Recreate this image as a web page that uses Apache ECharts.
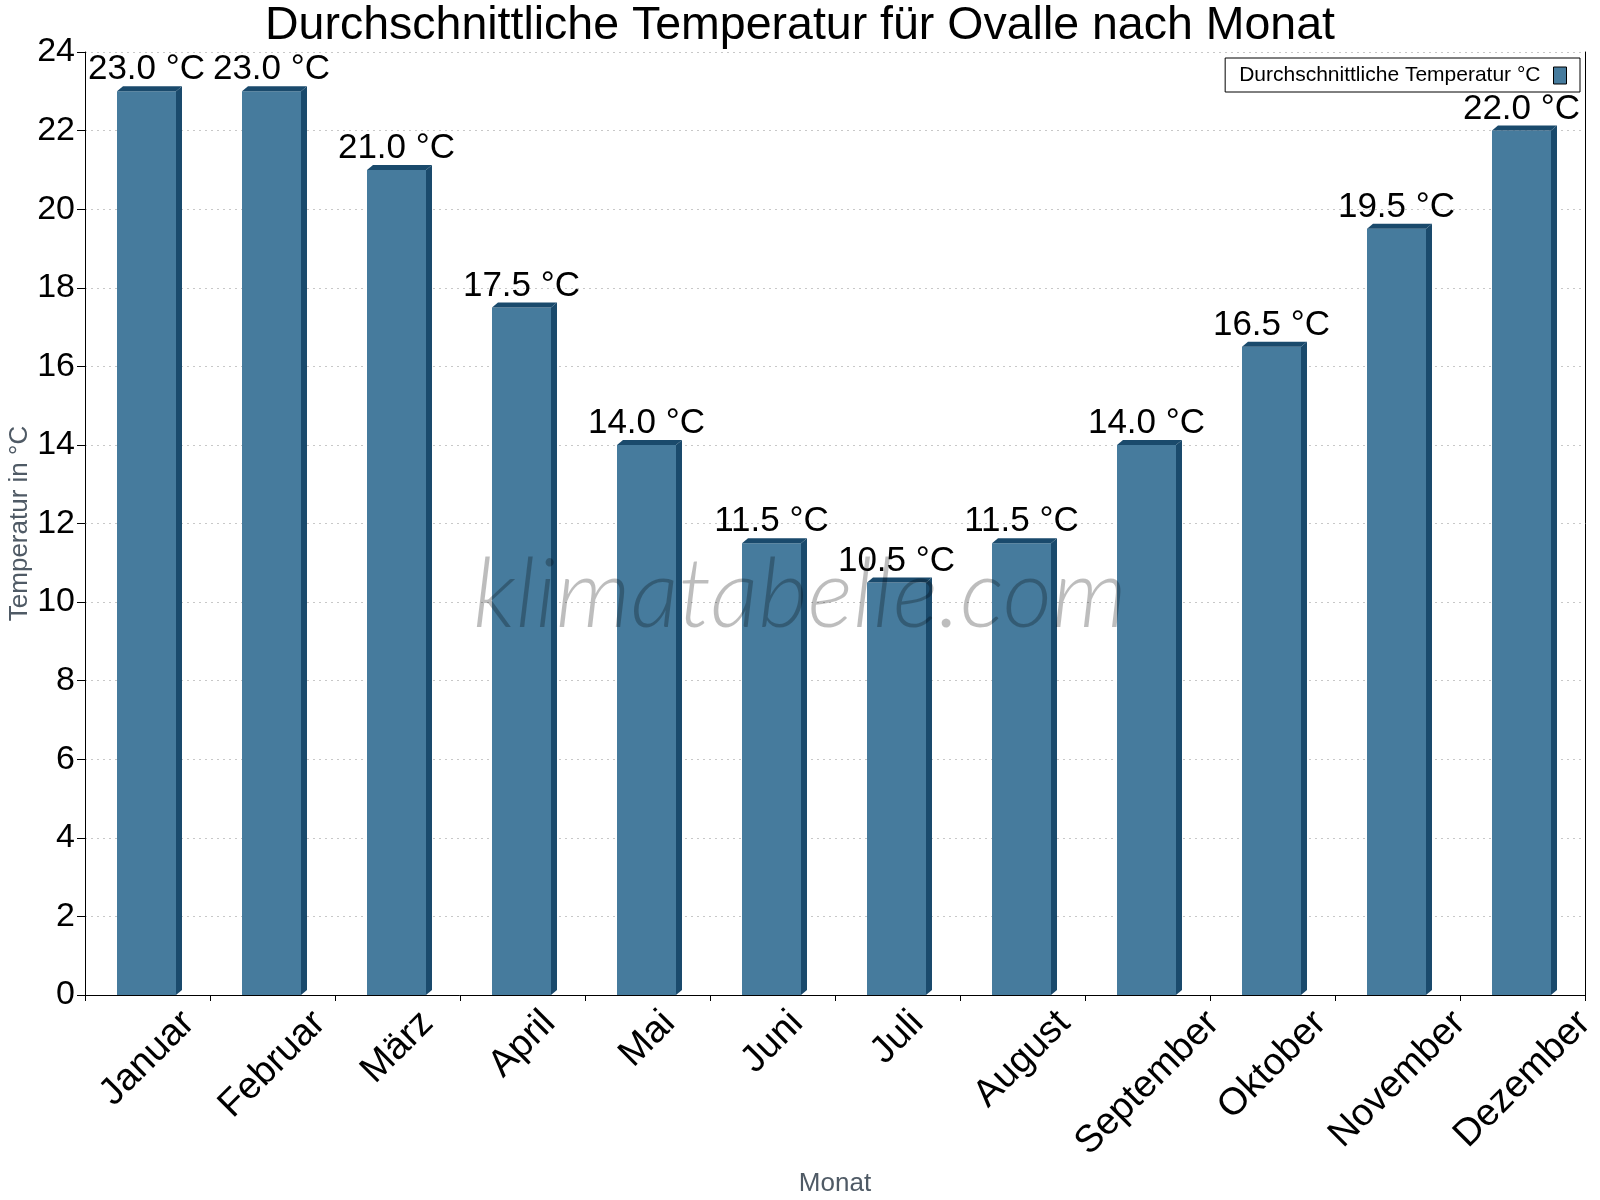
<!DOCTYPE html>
<html>
<head>
<meta charset="UTF-8">
<title>Durchschnittliche Temperatur für Ovalle nach Monat</title>
<script src="https://cdn.jsdelivr.net/npm/echarts@6/dist/echarts.min.js"></script>
<style>
  html, body { margin: 0; padding: 0; background: #fff; }
  #chart { width: 1600px; height: 1200px; }
</style>
</head>
<body>
<div id="chart"></div>
<script type="text/javascript">
 var months = ['Januar', 'Februar', 'März', 'April', 'Mai', 'Juni',
               'Juli', 'August', 'September', 'Oktober', 'November', 'Dezember'];
 var temps = [23.0, 23.0, 21.0, 17.5, 14.0, 11.5, 10.5, 11.5, 14.0, 16.5, 19.5, 22.0];
 var seriesName = 'Durchschnittliche Temperatur °C';

 var FONT = '"Liberation Sans", Arial, sans-serif';
 var frontColor = '#467b9d';
 var darkColor = '#1a4a6c';
 var monthSize = 38;

 // Breite der Monatsnamen messen, damit die gedrehten Labels mittig unter dem Balken stehen
 var ctx = document.createElement('canvas').getContext('2d');
 ctx.font = monthSize + 'px ' + FONT;
 var monthWidths = months.map(function (m) { return ctx.measureText(m).width; });

 var chart = echarts.init(document.getElementById('chart'));

 // Balken mit kleinem 3D-Rand (Seite + Deckel), Wertlabel und Monatsname
 function renderBar(params, api) {
   var i = api.value(0);
   var top = api.coord([i, api.value(1)]);
   var base = api.coord([i, 0]);
   var w = api.size([1, 0])[0] * 0.472;
   var x0 = top[0] - w / 2 - 1;
   var x1 = x0 + w;
   var dx = 6, dy = 5;
   var half = (monthWidths[i] + monthSize) / (2 * Math.SQRT2);
   return {
     type: 'group',
     children: [
       { type: 'rect', shape: { x: x0, y: top[1], width: w, height: base[1] - top[1] },
         style: { fill: frontColor } },
       { type: 'polygon', shape: { points: [[x1, top[1]], [x1 + dx, top[1] - dy], [x1 + dx, base[1] - dy], [x1, base[1]]] },
         style: { fill: darkColor } },
       { type: 'polygon', shape: { points: [[x0, top[1]], [x0 + dx, top[1] - dy], [x1 + dx, top[1] - dy], [x1, top[1]]] },
         style: { fill: darkColor } },
       { type: 'text', x: (x0 + x1) / 2, y: top[1] - dy + 1,
         style: { text: api.value(1).toFixed(1) + ' °C', font: '35px ' + FONT, fill: '#000',
                  align: 'center', verticalAlign: 'bottom' } },
       { type: 'text', x: base[0], y: base[1] + 9 + half, rotation: Math.PI / 4,
         style: { text: months[i], font: monthSize + 'px ' + FONT, fill: '#000',
                  align: 'center', verticalAlign: 'middle' } }
     ]
   };
 }

 chart.setOption({
   animation: false,
   title: {
     text: 'Durchschnittliche Temperatur für Ovalle nach Monat',
     left: 'center',
     top: 3,
     padding: 0,
     textStyle: { fontFamily: FONT, fontSize: 46.5, fontWeight: 'normal', color: '#000' }
   },
   legend: {
     right: 20,
     top: 58,
     align: 'right',
     padding: [7, 13, 6, 14],
     borderColor: '#000',
     borderWidth: 1,
     itemWidth: 13,
     itemHeight: 17,
     textStyle: { fontFamily: FONT, fontSize: 21, color: '#000', padding: [0, 8, 0, 0] },
     data: [{ name: seriesName, icon: 'rect',
              itemStyle: { color: frontColor, borderColor: '#000', borderWidth: 1 } }]
   },
   grid: { left: 85, right: 15, top: 52, bottom: 205, containLabel: false, outerBoundsMode: 'none' },
   xAxis: {
     type: 'category',
     data: months,
     boundaryGap: true,
     axisLine: { lineStyle: { color: '#000', width: 1 } },
     axisTick: { show: true, length: 6, lineStyle: { color: '#000' } },
     axisLabel: { show: false },
     name: 'Monat',
     nameLocation: 'middle',
     nameGap: 176,
     nameMoveOverlap: false,
     nameTextStyle: { fontFamily: FONT, fontSize: 26, color: '#4f5a65' }
   },
   yAxis: [{
     type: 'value',
     min: 0,
     max: 24,
     interval: 2,
     axisLine: { show: true, lineStyle: { color: '#000', width: 1 } },
     axisTick: { show: true, length: 8, lineStyle: { color: '#000' } },
     axisLabel: { fontFamily: FONT, fontSize: 34, color: '#000', margin: 10 },
     splitLine: { lineStyle: { color: '#c8c8c8', type: [2, 4] } },
     name: 'Temperatur in °C',
     nameLocation: 'middle',
     nameGap: 52,
     nameMoveOverlap: false,
     nameTextStyle: { fontFamily: FONT, fontSize: 26, color: '#4f5a65' }
   }, {
     type: 'value',
     position: 'right',
     min: 0,
     max: 24,
     axisLine: { show: true, lineStyle: { color: '#000', width: 1 } },
     axisTick: { show: false },
     axisLabel: { show: false },
     splitLine: { show: false }
   }],
   graphic: [{
     type: 'text',
     x: 800,
     y: 596,
     z: 100,
     style: { text: 'klimatabelle.com', font: 'italic 300 96px Lato, Roboto, sans-serif',
              fill: 'rgba(0,0,0,0.26)', align: 'center', verticalAlign: 'middle' }
   }],
   series: [{
     type: 'custom',
     name: seriesName,
     renderItem: renderBar,
     encode: { x: 0, y: 1 },
     itemStyle: { color: frontColor },
     clip: false,
     data: temps.map(function (v, i) { return [i, v]; })
   }]
 });
</script>
</body>
</html>
